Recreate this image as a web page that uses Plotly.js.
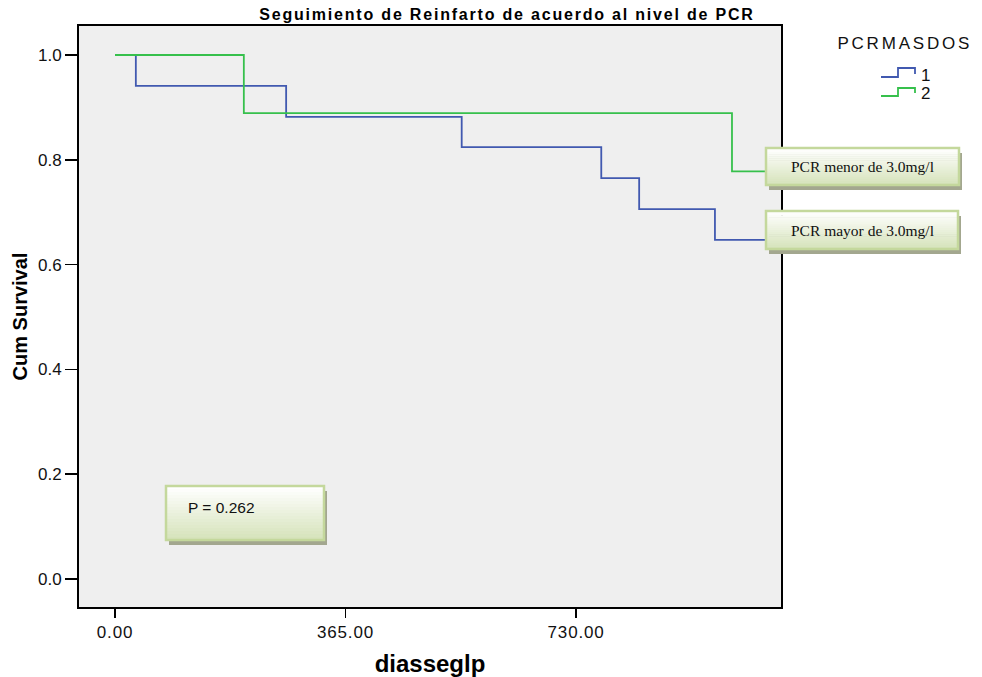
<!DOCTYPE html>
<html>
<head>
<meta charset="utf-8">
<script src="https://cdn.plot.ly/plotly-3.0.1.min.js"></script>
<style>html,body{margin:0;padding:0;background:#fff;}#chart{width:982px;height:677px;}</style>
</head>
<body>
<div id="chart"></div>
<script>
// ---- data ----
const chartTitle = 'Seguimiento de Reinfarto de acuerdo al nivel de PCR';
const legendTitle = 'PCRMASDOS';
const seriesNames = ['1', '2'];
// group 1 (blue) Kaplan-Meier steps
const days1 = [0, 33, 271, 549, 770, 830, 950, 1040];
const surv1 = [1.0, 0.941, 0.882, 0.824, 0.765, 0.706, 0.647, 0.647];
// group 2 (green)
const days2 = [0, 204, 977, 1040];
const surv2 = [1.0, 0.889, 0.778, 0.778];
const xTickVals = [0, 365, 730];
const xTickLabels = ['0.00', '365.00', '730.00'];
const boxLabels = ['PCR menor de 3.0mg/l', 'PCR mayor de 3.0mg/l'];
const pText = 'P = 0.262';

// ---- layout helpers (pixel -> paper) ----
const L = 79, R = 781, T = 26, B = 607;
const px = x => (x - L) / (R - L);
const py = y => (B - y) / (B - T);
const SANS = 'Liberation Sans, Arial, sans-serif';
const SERIF = 'Liberation Serif, Times New Roman, serif';
const blue = '#4159b0', green = '#36c04c';

const shapes = [];
function lerp(a, b, t) { return Math.round(a + (b - a) * t); }
function box(x0, y0, x1, y1) {
  shapes.push({type:'rect', xref:'paper', yref:'paper', layer:'above',
    x0:px(x0+3), x1:px(x1+3), y0:py(y0+5), y1:py(y1+5), fillcolor:'#a3a78f', line:{width:0}});
  const n = 18;
  for (let i = 0; i < n; i++) {
    const t = i / (n - 1);
    const c = 'rgb(' + lerp(255, 214, t) + ',' + lerp(255, 227, t) + ',' + lerp(255, 187, t) + ')';
    const ya = y0 + (y1 - y0) * i / n, yb = y0 + (y1 - y0) * (i + 1) / n;
    shapes.push({type:'rect', xref:'paper', yref:'paper', layer:'above',
      x0:px(x0), x1:px(x1), y0:py(ya), y1:py(yb + 0.5), fillcolor:c, line:{width:0}});
  }
  shapes.push({type:'rect', xref:'paper', yref:'paper', layer:'above',
    x0:px(x0), x1:px(x1), y0:py(y0), y1:py(y1), fillcolor:'rgba(0,0,0,0)', line:{color:'#c4d89c', width:2.5}});
}
box(766, 148, 959, 185);
box(766, 211, 958, 249);
box(166, 486, 324, 540);

function stepPath(yLow, yHigh, yEnd) {
  return 'M' + px(881) + ',' + py(yLow) + ' L' + px(898) + ',' + py(yLow) + ' L' + px(898) + ',' + py(yHigh) +
         ' L' + px(915) + ',' + py(yHigh) + ' L' + px(915) + ',' + py(yEnd);
}
shapes.push({type:'path', xref:'paper', yref:'paper', path:stepPath(77, 68, 74), line:{color:blue, width:1.8}});
shapes.push({type:'path', xref:'paper', yref:'paper', path:stepPath(96, 88, 93), line:{color:green, width:1.8}});

const annotations = [
  {text:boxLabels[0], xref:'paper', yref:'paper', x:px(862), y:py(166), xanchor:'center', yanchor:'middle', showarrow:false,
   font:{family:SERIF, size:15.5, color:'#111'}},
  {text:boxLabels[1], xref:'paper', yref:'paper', x:px(862), y:py(231), xanchor:'center', yanchor:'middle', showarrow:false,
   font:{family:SERIF, size:15.5, color:'#111'}},
  {text:pText, xref:'paper', yref:'paper', x:px(186), y:py(507), xanchor:'left', yanchor:'middle', showarrow:false,
   font:{family:SANS, size:15.5, color:'#111'}},
  {text:legendTitle, xref:'paper', yref:'paper', x:px(905), y:py(44), xanchor:'center', yanchor:'middle', showarrow:false,
   font:{family:SANS, size:17, color:'#111'}},
  {text:seriesNames[0], xref:'paper', yref:'paper', x:px(919), y:py(75), xanchor:'left', yanchor:'middle', showarrow:false,
   font:{family:SANS, size:17, color:'#111'}},
  {text:seriesNames[1], xref:'paper', yref:'paper', x:px(919), y:py(93), xanchor:'left', yanchor:'middle', showarrow:false,
   font:{family:SANS, size:17, color:'#111'}}
];

const traces = [
  {x:days1, y:surv1, name:seriesNames[0], type:'scatter', mode:'lines', line:{shape:'hv', color:blue, width:1.8}, showlegend:false, hoverinfo:'skip'},
  {x:days2, y:surv2, name:seriesNames[1], type:'scatter', mode:'lines', line:{shape:'hv', color:green, width:1.8}, showlegend:false, hoverinfo:'skip'}
];

const axisCommon = {showgrid:false, zeroline:false, showline:true, linecolor:'#000', linewidth:2, mirror:true,
  ticks:'outside', tickcolor:'#000', tickwidth:1.5, tickfont:{family:SANS, size:17, color:'#111'}};

const layout = {
  width:982, height:677,
  margin:{l:L, r:982 - R, t:T, b:677 - B, pad:0},
  paper_bgcolor:'#ffffff', plot_bgcolor:'#efefef',
  showlegend:false,
  title:{text:chartTitle, font:{family:SANS, size:16, weight:'bold', color:'#000'},
    xref:'container', yref:'container', x:507 / 982, y:1 - 14 / 677, xanchor:'center', yanchor:'middle'},
  xaxis:Object.assign({}, axisCommon, {range:[-57, 1054.6], tickvals:xTickVals, ticktext:xTickLabels, ticklen:9,
    title:{text:'diasseglp', font:{family:SANS, size:24, weight:'bold', color:'#000'}, standoff:20}}),
  yaxis:Object.assign({}, axisCommon, {range:[-0.0534, 1.0553], tick0:0, dtick:0.2, tickformat:'.1f', ticklen:12,
    title:{text:'Cum Survival', font:{family:SANS, size:20, weight:'bold', color:'#000'}, standoff:5}}),
  shapes:shapes,
  annotations:annotations
};

Plotly.newPlot('chart', traces, layout, {displayModeBar:false, staticPlot:true}).then(function () {
  const t = document.querySelector('.gtitle');
  if (t) t.style.letterSpacing = '1.8px';
  document.querySelectorAll('.annotation-text').forEach(function (el) {
    if (el.textContent === legendTitle) el.style.letterSpacing = '2.8px';
  });
  document.querySelectorAll('.xtick text').forEach(function (el) { el.style.letterSpacing = '0.8px'; });
});
</script>
</body>
</html>
